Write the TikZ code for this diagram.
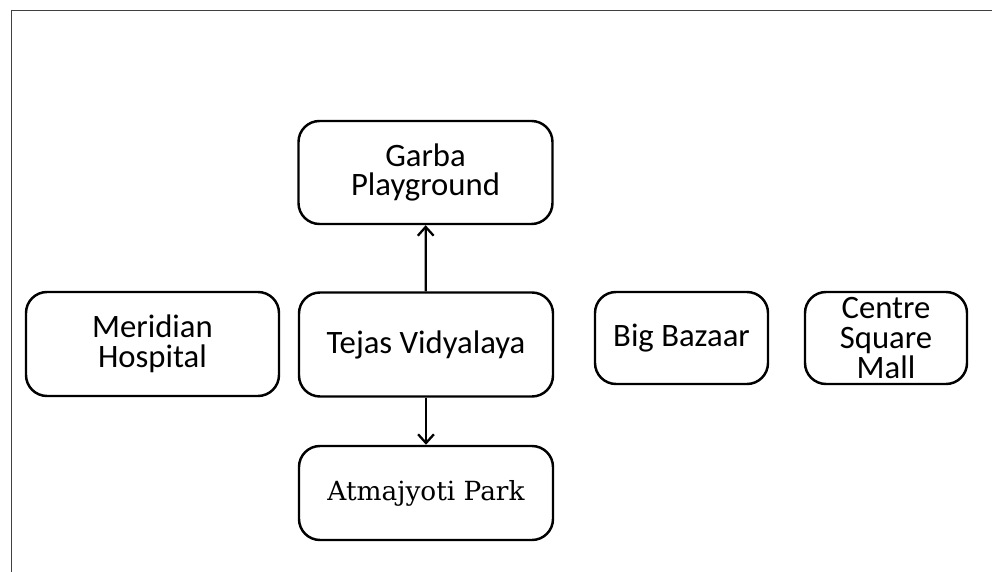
\documentclass[tikz,border=0pt]{standalone}
\usepackage{fontspec}
\setmainfont{Carlito}
\newfontfamily\parkfont{DejaVu Serif}
\usetikzlibrary{arrows.meta}

\begin{document}
\begin{tikzpicture}[
    spot/.style={draw, line width=1.4pt, rounded corners=0.42cm, align=center, inner sep=0pt,
        font=\fontsize{18.6}{17}\selectfont},
    link/.style={line width=1.3pt, -{Straight Barb[length=5pt,width=9pt,line width=1.3pt]}}
]
    \useasboundingbox (0,0) rectangle (19.84,11.44);
    % Draw the frame
    \draw[line width=0.6pt, black!75] (0.23,0) -- (0.23,11.23) -- (19.84,11.23);
    % Draw the places
    \node[spot, minimum width=5.08cm, minimum height=2.06cm] (garba) at (8.51,7.99) {Garba\\Playground};
    \node[spot, minimum width=5.08cm, minimum height=2.08cm] (tejas) at (8.52,4.55) {Tejas Vidyalaya};
    \node[spot, minimum width=5.06cm, minimum height=2.08cm] (meridian) at (3.05,4.56) {Meridian\\Hospital};
    \node[spot, minimum width=5.08cm, minimum height=1.88cm, font=\parkfont\fontsize{15}{18}\selectfont] (atma) at (8.52,1.58) {Atmajyoti Park};
    \node[spot, minimum width=3.46cm, minimum height=1.84cm] (bazaar) at (13.63,4.68) {Big Bazaar};
    \node[spot, minimum width=3.24cm, minimum height=1.84cm] (mall) at (17.72,4.68) {Centre\\Square\\Mall};
    % Draw the arrows
    \draw[link] (tejas) -- (garba);
    \draw[link] (tejas) -- (atma);
\end{tikzpicture}
\end{document}
